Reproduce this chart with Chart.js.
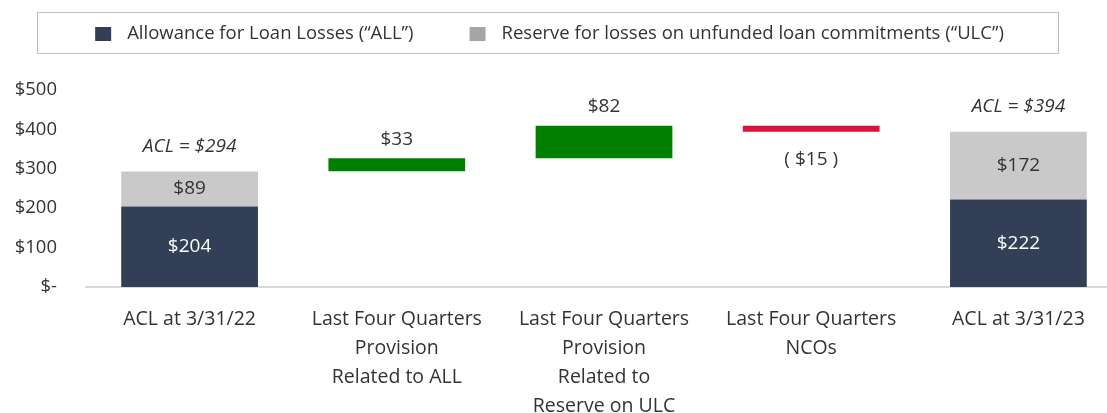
<!DOCTYPE html>
<html>
<head>
<meta charset="utf-8">
<script src="https://cdn.jsdelivr.net/npm/chart.js@4"></script>
<style>
  html, body { margin: 0; padding: 0; background: #fff; overflow: hidden; }
  #wrap { width: 1122px; height: 413px; }
</style>
</head>
<body>
<div id="wrap"><canvas id="grafico-acl"></canvas></div>
<script>
const categorias = [
    "ACL at 3/31/22",
    ["Last Four Quarters", "Provision", "Related to ALL"],
    ["Last Four Quarters", "Provision", "Related to", "Reserve on ULC"],
    ["Last Four Quarters", "NCOs"],
    "ACL at 3/31/23"
];
const valoresALL = [204, null, null, null, 222];
const valoresULC = [89, null, null, null, 172];
const totaisACL = [294, null, null, null, 394];
const variacoes = [null, 33, 82, -15, null];
const ticksY = [0, 100, 200, 300, 400, 500];

const FONTE = "'Open Sans'";
const corTexto = "#333333";

// floating bars for the waterfall steps
let acumulado = totaisACL[0];
const faixas = variacoes.map(v => {
    if (v == null) return null;
    const faixa = [acumulado, acumulado + v];
    acumulado += v;
    return faixa;
});

const dinheiro = v => v < 0 ? "( $" + Math.abs(v) + " )" : "$" + v;

const legendaCaixa = {
    id: "legendaCaixa",
    afterDraw(chart) {
        const ctx = chart.ctx;
        const itens = chart.data.datasets.filter(d => d.naLegenda);
        ctx.save();
        ctx.font = "18.5px " + FONTE;
        ctx.textBaseline = "middle";
        ctx.strokeStyle = "#BFBFBF";
        ctx.lineWidth = 1;
        ctx.strokeRect(37.5, 12.5, 1021, 41);
        const larguras = itens.map(d => ctx.measureText(d.label).width);
        const total = larguras.reduce((a, b) => a + b, 0) + itens.length * 32 + (itens.length - 1) * 56;
        let x = 37 + (1021 - total) / 2 + 2;
        itens.forEach((d, i) => {
            ctx.fillStyle = d.corLegenda;
            ctx.fillRect(x, 27, 16, 14);
            ctx.fillStyle = corTexto;
            ctx.fillText(d.label, x + 32, 34);
            x += 32 + larguras[i] + 56;
        });
        ctx.restore();
    }
};

const rotulos = {
    id: "rotulos",
    afterDatasetsDraw(chart) {
        const ctx = chart.ctx;
        const metaALL = chart.getDatasetMeta(0);
        const metaULC = chart.getDatasetMeta(1);
        const metaVar = chart.getDatasetMeta(2);
        const fonte = "19px " + FONTE;
        ctx.save();
        ctx.textAlign = "center";
        ctx.textBaseline = "middle";
        ctx.font = fonte;

        metaALL.data.forEach((bar, i) => {
            if (valoresALL[i] == null) return;
            ctx.fillStyle = "#FFFFFF";
            ctx.fillText(dinheiro(valoresALL[i]), bar.x, (bar.y + bar.base) / 2);
        });
        metaULC.data.forEach((bar, i) => {
            if (valoresULC[i] == null) return;
            ctx.fillStyle = corTexto;
            ctx.fillText(dinheiro(valoresULC[i]), bar.x, (bar.y + bar.base) / 2);
            ctx.font = "italic " + fonte;
            ctx.fillText("ACL = " + dinheiro(totaisACL[i]), bar.x, Math.min(bar.y, bar.base) - 25);
            ctx.font = fonte;
        });
        metaVar.data.forEach((bar, i) => {
            const v = variacoes[i];
            if (v == null) return;
            ctx.fillStyle = corTexto;
            if (v >= 0) {
                ctx.fillText(dinheiro(v), bar.x, Math.min(bar.y, bar.base) - 19);
            } else {
                ctx.fillText(dinheiro(v), bar.x, Math.max(bar.y, bar.base) + 28);
            }
        });
        ctx.restore();
    }
};

const ctxACL = document.getElementById("grafico-acl");

new Chart(ctxACL, {
    type: "bar",
    data: {
        labels: categorias,
        datasets: [
            {
                label: "Allowance for Loan Losses (\u201CALL\u201D)",
                data: valoresALL,
                backgroundColor: "#333F56",
                corLegenda: "#333F56",
                naLegenda: true
            },
            {
                label: "Reserve for losses on unfunded loan commitments (\u201CULC\u201D)",
                data: valoresULC,
                backgroundColor: "#C9C9C9",
                corLegenda: "#A6A6A6",
                naLegenda: true
            },
            {
                label: "Change",
                data: faixas,
                backgroundColor: variacoes.map(v => v != null && v < 0 ? "#E0103A" : "#008000")
            }
        ]
    },
    options: {
        responsive: true,
        maintainAspectRatio: false,
        animation: false,
        categoryPercentage: 1,
        barPercentage: 0.66,
        layout: { padding: { top: 90, right: 0, bottom: 0, left: 0 } },
        plugins: {
            legend: { display: false },
            tooltip: { enabled: false }
        },
        scales: {
            x: {
                stacked: true,
                grid: { display: false, drawTicks: false },
                border: { display: true, color: "#D9D9D9", width: 2 },
                ticks: {
                    color: corTexto,
                    font: { family: FONTE, size: 19.5, lineHeight: 1.49 },
                    padding: 18,
                    maxRotation: 0,
                    autoSkip: false
                },
                afterFit: axis => { axis.height = 126; }
            },
            y: {
                stacked: true,
                min: 0,
                max: 500,
                grid: { display: false, drawTicks: false },
                border: { display: false },
                afterBuildTicks: axis => { axis.ticks = ticksY.map(v => ({ value: v })); },
                ticks: {
                    color: corTexto,
                    font: { family: FONTE, size: 18.5 },
                    padding: 29,
                    callback: v => v === 0 ? "$-" : "$" + v
                },
                afterFit: axis => { axis.width = 86; }
            }
        }
    },
    plugins: [legendaCaixa, rotulos]
});
</script>
</body>
</html>
